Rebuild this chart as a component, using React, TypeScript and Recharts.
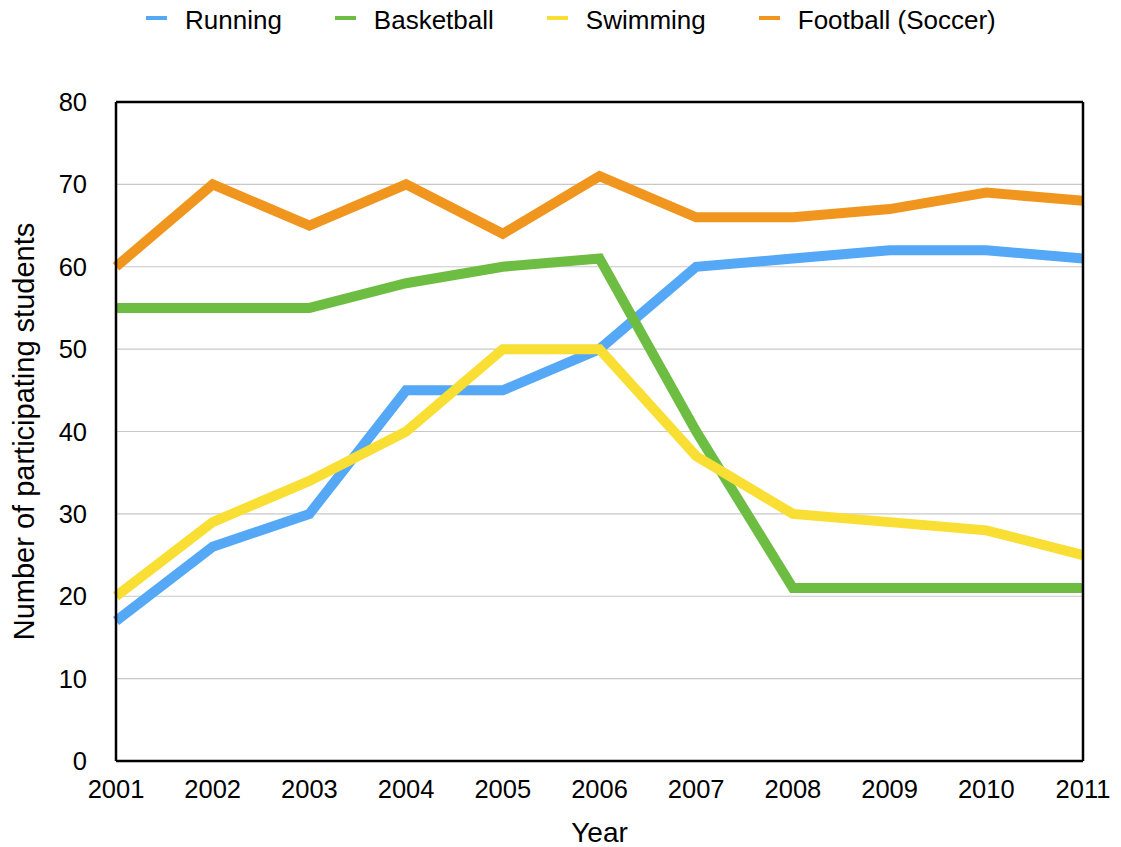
import React from 'react';
import {
  LineChart, Line, XAxis, YAxis, CartesianGrid, Legend, ReferenceLine,
} from 'recharts';

const years = ['2001', '2002', '2003', '2004', '2005', '2006', '2007', '2008', '2009', '2010', '2011'];
const running = [17, 26, 30, 45, 45, 50, 60, 61, 62, 62, 61];
const basketball = [55, 55, 55, 58, 60, 61, 40, 21, 21, 21, 21];
const swimming = [20, 29, 34, 40, 50, 50, 37, 30, 29, 28, 25];
const football = [60, 70, 65, 70, 64, 71, 66, 66, 67, 69, 68];
const yTicks = [0, 10, 20, 30, 40, 50, 60, 70, 80];

const series = [
  { key: 'running', name: 'Running', color: '#54A8F6' },
  { key: 'basketball', name: 'Basketball', color: '#6EBD43' },
  { key: 'swimming', name: 'Swimming', color: '#F9DE33' },
  { key: 'football', name: 'Football (Soccer)', color: '#F0961F' },
];

const data = years.map((year, i) => ({
  year,
  running: running[i],
  basketball: basketball[i],
  swimming: swimming[i],
  football: football[i],
}));

const FONT = '"Liberation Sans", Arial, Helvetica, sans-serif';

const LegendContent = () => (
  <div style={{ display: 'flex', alignItems: 'center', height: 40, gap: 53, fontFamily: FONT, fontSize: 26, color: '#000' }}>
    {series.map((s) => (
      <div key={s.key} style={{ display: 'flex', alignItems: 'center' }}>
        <svg width={21} height={4} style={{ marginRight: 18, marginTop: -4 }}>
          <rect width={21} height={4} fill={s.color} />
        </svg>
        <span>{s.name}</span>
      </div>
    ))}
  </div>
);

const App: React.FC = () => {
  return (
    <div style={{ position: 'absolute', left: 0, top: 0 }}>
      <LineChart
        width={1121}
        height={847}
        data={data}
        margin={{ top: 62, right: 38, left: 0, bottom: 0 }}
        style={{ fontFamily: FONT }}
      >
        <CartesianGrid horizontal vertical={false} stroke="#C8C8C8" strokeWidth={1.2} />
        <Legend
          verticalAlign="top"
          align="left"
          content={<LegendContent />}
          wrapperStyle={{ left: 146, top: 0, width: 900 }}
        />
        <XAxis
          dataKey="year"
          height={86}
          tickSize={0}
          tickMargin={19}
          tick={{ fill: '#000', fontSize: 25.5 }}
          axisLine={{ stroke: '#000', strokeWidth: 2.5 }}
          interval={0}
          label={{ value: 'Year', position: 'insideBottom', offset: 5, fill: '#000', fontSize: 28 }}
        />
        <YAxis
          width={116}
          domain={[0, 80]}
          ticks={yTicks}
          tickSize={0}
          tickMargin={29}
          tick={{ fill: '#000', fontSize: 25.5 }}
          axisLine={{ stroke: '#000', strokeWidth: 2.5 }}
          label={{
            value: 'Number of participating students',
            angle: -90,
            position: 'insideLeft',
            offset: 24,
            fill: '#000',
            fontSize: 29,
            style: { textAnchor: 'middle' },
          }}
        />
        {series.map((s) => (
          <Line
            key={s.key}
            type="linear"
            dataKey={s.key}
            name={s.name}
            stroke={s.color}
            strokeWidth={10}
            strokeLinecap="butt"
            strokeLinejoin="miter"
            dot={false}
            activeDot={false}
            isAnimationActive={false}
          />
        ))}
        <ReferenceLine y={80} stroke="#000" strokeWidth={2.5} />
        <ReferenceLine x="2011" stroke="#000" strokeWidth={2.5} />
      </LineChart>
    </div>
  );
};

export default App;
